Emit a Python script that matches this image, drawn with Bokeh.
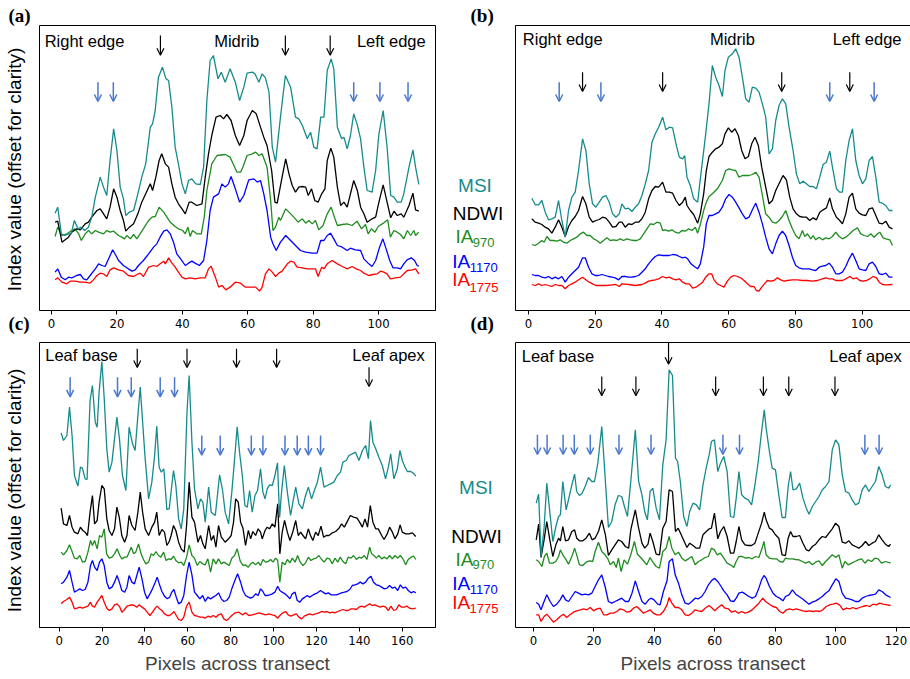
import math
from bokeh.plotting import figure
from bokeh.layouts import column, row
from bokeh.models import Range1d, FixedTicker, Label, Arrow, OpenHead, ColumnDataSource, LinearAxis, Title
from bokeh.core.properties import value
from bokeh.embed import file_html
from bokeh.resources import INLINE

# ---------------- data (x = pixel along transect, y = offset index value, arbitrary units) -------------
A_MSI = [(1.1,292),(1.9,310),(3.0,230),(4.0,225),(5.2,230),(6.0,230),(7.0,270),(8.1,245),(9.1,250),(10.1,240),(11.3,250),(12.3,280),(13.4,340),(14.9,400),(15.9,370),(16.9,345),(17.9,450),(19.0,545),(20.0,480),(21.0,370),(22.0,335),(22.7,285),(23.8,295),(25.1,300),(26.4,350),(27.6,400),(28.8,440),(30.2,550),(30.9,560),(31.7,600),(32.7,700),(33.9,730),(35.0,695),(35.8,690),(36.8,610),(37.8,490),(38.8,440),(39.9,380),(40.9,350),(41.9,390),(42.9,395),(44.1,380),(45.5,378),(46.5,430),(47.5,630),(48.5,750),(49.5,765),(50.9,695),(51.9,715),(53.1,685),(54.6,725),(56.2,685),(57.5,630),(58.8,670),(59.8,712),(61.4,715),(62.2,710),(63.4,685),(64.4,710),(65.4,698),(66.5,655),(67.5,490),(68.5,445),(70.0,580),(71.5,705),(73.1,670),(74.6,580),(75.6,575),(76.7,555),(78.2,515),(79.2,535),(80.2,490),(81.2,485),(82.3,580),(83.3,580),(84.3,720),(85.5,755),(86.3,725),(87.4,550),(88.7,515),(89.4,520),(90.4,485),(91.4,525),(92.4,590),(93.4,560),(94.5,515),(95.5,430),(96.5,360),(98.0,355),(99.1,420),(100.1,530),(101.4,600),(102.6,490),(103.7,345),(104.7,340),(105.7,325),(106.9,325),(107.7,350),(109.3,430),(110.5,482),(111.3,430),(112.3,378)]
A_NDWI = [(1.1,265),(1.9,268),(3.2,205),(5.2,220),(6.2,235),(7.7,245),(8.8,242),(10.3,260),(11.3,265),(12.3,280),(13.9,300),(14.9,305),(15.9,290),(16.9,275),(17.9,310),(19.0,365),(20.0,340),(21.0,300),(22.0,270),(22.7,238),(23.8,250),(25.1,260),(26.4,290),(27.6,325),(28.8,350),(30.2,380),(30.9,360),(31.9,400),(32.9,450),(33.7,470),(34.8,440),(35.8,430),(36.8,380),(37.8,340),(38.8,320),(39.9,305),(40.9,290),(42.1,325),(42.9,325),(44.4,315),(46.0,320),(47.0,400),(48.0,470),(49.0,525),(50.3,580),(51.6,585),(52.6,575),(53.6,588),(54.9,570),(56.2,525),(57.5,495),(58.8,525),(59.8,570),(61.4,600),(62.6,590),(63.9,550),(64.9,520),(65.9,495),(67.3,420),(68.3,325),(69.0,322),(70.5,400),(71.6,455),(72.6,410),(73.6,375),(74.6,355),(75.6,370),(76.7,372),(77.7,370),(78.5,345),(79.5,365),(80.5,330),(81.5,325),(82.6,350),(83.6,365),(84.3,450),(85.4,487),(86.3,460),(87.4,370),(88.4,315),(89.4,325),(90.4,310),(91.4,350),(92.4,390),(93.5,360),(94.5,310),(95.5,290),(96.5,265),(98.0,275),(99.1,280),(100.1,325),(101.4,377),(102.6,325),(103.7,278),(104.7,298),(105.7,285),(106.9,290),(107.7,280),(109.3,315),(110.5,352),(111.3,302),(112.3,298)]
A_IA970 = [(1.1,222),(1.9,250),(3.2,225),(4.7,230),(6.2,240),(7.2,245),(8.3,230),(9.1,210),(10.3,230),(11.3,240),(12.3,230),(13.4,240),(14.4,235),(15.9,230),(16.9,240),(17.9,235),(19.0,238),(20.5,225),(21.5,220),(22.3,215),(23.0,225),(24.1,215),(25.1,228),(26.1,215),(27.1,230),(28.4,250),(29.7,270),(30.7,280),(31.7,282),(32.9,310),(34.3,295),(35.3,280),(36.3,265),(37.8,252),(38.8,245),(40.1,240),(40.9,230),(41.7,250),(42.4,222),(43.1,240),(44.4,230),(45.8,230),(46.7,280),(47.5,360),(49.0,440),(50.6,465),(53.1,468),(54.6,460),(56.7,415),(57.8,415),(58.5,430),(59.8,465),(61.4,470),(62.4,475),(63.4,465),(64.4,470),(65.9,430),(67.0,330),(67.7,240),(68.5,250),(69.5,280),(70.0,270),(71.6,305),(72.6,295),(74.1,280),(75.4,265),(76.7,275),(77.7,262),(78.7,270),(79.7,260),(80.7,270),(81.7,242),(83.0,255),(84.3,290),(85.5,310),(86.5,280),(87.4,255),(88.9,258),(90.4,260),(91.9,255),(93.4,268),(94.8,245),(96.0,258),(96.8,230),(97.8,245),(98.9,235),(99.9,252),(101.6,263),(102.8,272),(103.6,220),(104.7,240),(105.7,235),(106.7,228),(107.7,215),(108.8,240),(109.8,225),(110.8,240),(111.3,225),(112.3,235)]
A_IA1170 = [(1.1,115),(1.9,125),(3.0,100),(4.2,92),(5.2,100),(6.2,98),(7.7,105),(8.8,108),(9.8,95),(10.8,92),(11.8,105),(13.4,125),(14.4,140),(15.4,135),(16.4,132),(17.6,158),(18.7,182),(19.7,165),(20.5,150),(22.0,135),(23.5,125),(24.6,118),(25.6,122),(26.6,135),(28.1,150),(29.7,170),(31.2,190),(32.2,200),(33.2,220),(34.3,238),(35.3,242),(36.3,230),(37.3,205),(38.3,170),(39.7,152),(40.9,135),(41.9,142),(42.9,148),(43.9,142),(45.2,135),(46.5,150),(47.5,210),(48.5,300),(49.5,340),(51.1,350),(52.1,380),(53.1,370),(54.1,380),(54.9,402),(56.2,365),(57.5,325),(58.8,345),(60.3,392),(61.9,395),(62.9,385),(63.9,390),(64.9,350),(65.9,300),(67.0,220),(67.7,200),(68.7,180),(70.0,205),(71.6,225),(73.1,210),(74.6,195),(76.1,180),(77.7,175),(79.7,172),(81.2,172),(82.3,210),(83.3,210),(84.3,225),(85.3,232),(86.3,215),(87.4,195),(88.9,190),(90.4,180),(91.4,187),(92.9,182),(94.5,180),(95.5,155),(97.0,140),(98.0,132),(99.1,150),(100.3,190),(101.3,215),(102.3,185),(103.4,150),(104.4,128),(105.7,128),(106.7,125),(107.7,140),(108.7,152),(110.0,158),(111.0,150),(111.8,135),(112.3,133)]
A_IA1775 = [(1.1,92),(1.9,98),(3.2,85),(4.7,80),(5.7,88),(7.2,88),(8.8,85),(10.3,85),(11.8,82),(12.8,92),(13.9,105),(14.9,112),(15.9,110),(16.9,102),(17.9,122),(19.0,128),(20.5,122),(22.0,118),(23.5,105),(25.1,102),(26.1,108),(27.1,112),(28.1,102),(29.7,130),(31.2,135),(32.2,132),(33.2,140),(34.3,148),(34.8,140),(35.8,158),(36.6,145),(37.8,130),(38.8,115),(39.9,100),(40.9,95),(42.4,98),(43.9,95),(45.5,98),(47.0,98),(48.0,125),(48.8,133),(50.1,100),(51.1,70),(52.1,75),(53.3,62),(54.6,70),(56.2,85),(57.8,82),(59.3,70),(60.9,70),(62.4,70),(63.6,58),(64.4,70),(65.4,110),(66.5,125),(67.5,115),(68.5,102),(69.5,112),(70.5,118),(72.1,140),(73.1,148),(74.1,145),(75.1,130),(76.7,128),(78.2,125),(79.7,125),(80.7,125),(81.5,102),(82.6,130),(83.3,125),(84.3,140),(85.8,150),(87.4,140),(88.9,132),(90.4,125),(91.9,132),(93.2,125),(94.5,120),(95.5,112),(97.0,105),(98.3,108),(99.6,110),(100.6,118),(101.6,115),(102.6,110),(103.6,95),(105.2,98),(106.7,100),(107.7,110),(108.8,120),(110.3,122),(111.3,125),(112.3,110)]

B_MSI = [(1.0,337),(2.0,317),(3.0,317),(4.0,330),(5.0,295),(6.0,272),(7.0,275),(8.0,280),(9.0,330),(10.0,270),(11.0,220),(12.0,300),(13.0,340),(14.0,355),(15.0,420),(16.2,515),(17.2,480),(18.2,380),(19.2,320),(20.2,310),(21.2,325),(22.2,340),(23.2,345),(24.2,325),(25.2,290),(26.2,280),(27.2,290),(28.0,320),(29.0,305),(30.0,307),(31.0,297),(32.0,310),(33.0,320),(34.0,345),(35.0,380),(36.0,420),(37.0,505),(38.0,530),(39.0,550),(40.2,580),(41.2,542),(42.2,550),(43.2,548),(44.2,500),(45.2,460),(46.2,455),(46.8,465),(47.5,400),(48.5,375),(49.5,335),(50.7,325),(51.5,395),(53.0,520),(54.1,620),(55.1,735),(56.1,700),(57.1,675),(58.1,642),(58.9,720),(59.9,760),(61.1,770),(62.1,785),(63.1,760),(64.1,700),(65.1,635),(66.1,625),(67.1,670),(68.1,667),(69.1,655),(70.1,620),(71.1,580),(72.1,470),(73.1,485),(74.1,570),(75.1,615),(76.1,635),(77.1,620),(78.1,550),(79.3,480),(80.3,410),(81.3,380),(82.3,388),(83.3,380),(84.3,372),(85.3,372),(86.3,365),(87.3,400),(88.3,438),(89.3,445),(90.3,478),(91.1,430),(92.3,365),(93.3,355),(94.1,355),(95.1,450),(96.1,510),(97.1,545),(98.1,450),(99.1,405),(100.1,380),(101.1,395),(102.1,450),(103.1,462),(104.1,400),(105.1,325),(106.1,322),(107.1,315),(108.1,300),(109.1,300)]
B_NDWI = [(1.0,275),(2.0,265),(3.0,262),(4.0,258),(5.0,250),(6.0,245),(7.0,232),(8.0,250),(9.0,272),(10.0,250),(11.0,222),(12.0,252),(13.0,270),(14.0,282),(15.0,300),(16.2,342),(17.2,320),(18.2,280),(19.2,265),(20.2,270),(21.2,273),(22.2,280),(23.2,277),(24.2,265),(25.2,250),(26.2,252),(27.2,265),(28.0,265),(29.0,250),(30.0,260),(31.0,258),(32.0,265),(33.0,265),(34.0,275),(35.0,295),(36.0,335),(37.0,360),(38.0,372),(39.0,370),(40.2,385),(41.2,355),(42.2,355),(43.2,352),(44.2,330),(45.2,315),(46.2,325),(47.0,340),(47.5,315),(48.5,300),(49.5,288),(50.7,262),(51.5,290),(52.5,350),(53.3,420),(54.1,462),(55.1,475),(56.1,485),(57.1,490),(58.1,500),(58.9,530),(59.9,548),(60.9,535),(61.9,545),(62.9,525),(63.9,480),(64.9,455),(65.9,462),(66.9,500),(67.9,520),(68.9,495),(69.9,430),(71.1,370),(72.1,320),(73.1,330),(74.1,360),(75.3,385),(76.3,405),(77.3,392),(78.3,340),(79.3,305),(80.3,290),(81.3,282),(82.3,280),(83.3,280),(84.3,270),(85.3,278),(86.3,272),(87.3,295),(88.3,302),(89.3,308),(90.3,338),(91.1,305),(92.3,280),(93.3,270),(94.1,260),(95.1,290),(96.1,340),(97.1,352),(98.1,305),(99.1,292),(100.1,287),(101.1,285),(102.1,305),(103.1,308),(104.1,285),(105.1,262),(106.1,260),(107.1,268),(108.1,250),(109.1,245)]
B_IA970 = [(1.0,198),(2.0,195),(3.0,202),(4.0,210),(4.7,205),(5.5,222),(6.5,210),(7.5,210),(8.5,208),(9.5,212),(10.5,205),(11.5,202),(12.5,210),(13.5,215),(14.5,220),(15.5,230),(16.5,235),(17.5,225),(18.5,225),(19.5,215),(20.5,210),(21.5,202),(22.5,210),(23.5,218),(24.5,210),(25.5,212),(26.5,210),(27.5,215),(28.5,210),(29.5,215),(30.5,212),(31.5,210),(32.5,210),(33.5,215),(34.5,230),(35.5,245),(36.5,260),(37.5,258),(38.5,265),(39.5,262),(40.2,240),(41.0,242),(42.0,238),(43.0,242),(44.0,235),(45.0,232),(46.0,240),(47.0,238),(48.0,245),(49.0,240),(50.0,250),(50.7,232),(51.5,258),(52.5,300),(53.3,325),(54.1,342),(55.1,350),(56.6,365),(58.1,390),(59.1,420),(60.1,425),(61.1,422),(62.1,420),(63.1,400),(64.1,405),(65.1,405),(66.1,405),(67.1,408),(68.1,415),(69.1,400),(70.1,345),(71.1,290),(72.1,280),(73.1,265),(74.1,262),(75.1,270),(76.1,282),(77.1,300),(78.1,270),(79.1,245),(80.1,225),(81.1,215),(82.1,240),(82.8,222),(83.6,230),(84.6,215),(85.3,225),(86.1,212),(87.1,220),(88.1,212),(89.1,218),(90.1,215),(91.1,222),(92.1,235),(93.1,222),(94.1,215),(95.1,220),(96.3,230),(97.3,240),(98.6,248),(99.6,230),(100.6,225),(101.6,222),(102.6,230),(103.6,220),(104.6,230),(105.3,235),(106.3,218),(107.1,215),(108.3,212),(109.1,195)]
B_IA1170 = [(1.0,108),(2.0,105),(3.0,105),(4.0,100),(5.0,98),(6.0,102),(7.0,95),(8.0,100),(9.0,95),(10.0,102),(11.0,85),(12.0,100),(13.0,110),(14.0,120),(15.0,130),(16.2,158),(17.0,158),(18.0,130),(19.0,110),(20.0,105),(21.0,105),(22.0,108),(23.0,105),(24.0,102),(25.0,100),(26.0,98),(27.0,92),(28.0,102),(29.0,102),(30.0,100),(31.0,100),(32.0,102),(33.0,105),(34.0,115),(35.0,125),(36.0,140),(37.0,152),(38.0,162),(39.0,167),(40.2,165),(41.2,165),(42.2,165),(43.2,168),(44.2,167),(45.2,162),(46.2,158),(47.0,160),(47.7,155),(48.7,140),(49.7,132),(50.7,125),(51.5,140),(52.5,190),(53.3,260),(54.1,285),(55.1,285),(56.1,290),(57.1,295),(58.1,310),(59.1,335),(60.1,348),(61.1,340),(62.1,325),(63.1,308),(64.1,290),(65.1,275),(66.1,280),(67.1,302),(68.1,322),(69.1,295),(70.1,260),(71.1,220),(72.1,185),(73.1,170),(74.1,200),(75.1,225),(76.1,238),(77.1,225),(78.1,195),(79.1,160),(80.1,135),(81.1,128),(82.1,125),(84.1,125),(85.1,122),(86.1,120),(87.1,130),(88.1,133),(89.1,135),(90.1,142),(91.1,130),(92.1,110),(93.1,110),(94.1,115),(95.1,132),(96.1,155),(97.1,172),(98.1,150),(99.1,125),(100.1,122),(101.1,120),(102.1,140),(103.1,145),(104.1,132),(105.1,110),(106.1,108),(107.1,112),(108.1,100),(109.1,100)]
B_IA1775 = [(1.0,78),(2.0,75),(3.0,80),(4.0,75),(5.0,78),(6.0,75),(7.0,72),(8.0,78),(9.0,75),(10.0,75),(11.0,65),(12.0,75),(13.0,80),(14.0,85),(15.0,92),(16.2,100),(17.2,92),(18.2,85),(19.2,80),(20.2,75),(23.2,75),(25.2,77),(26.2,78),(27.2,72),(28.0,80),(30.0,78),(32.0,75),(34.0,78),(35.0,82),(36.0,88),(37.0,90),(38.0,92),(39.0,95),(40.2,102),(41.2,98),(42.2,100),(43.2,95),(44.2,92),(45.2,95),(46.2,85),(47.2,80),(48.2,80),(49.2,67),(50.2,70),(51.2,77),(52.2,85),(53.1,100),(54.1,110),(54.9,110),(55.6,92),(56.6,80),(57.6,75),(58.6,70),(59.6,88),(60.6,100),(61.6,105),(62.6,102),(63.6,98),(64.6,90),(65.6,80),(66.6,72),(67.6,72),(68.3,60),(69.1,58),(69.9,70),(70.9,82),(71.6,90),(72.6,88),(73.6,90),(74.6,98),(75.6,92),(76.6,88),(77.6,90),(79.1,92),(80.6,92),(82.1,90),(83.6,90),(85.1,88),(86.6,90),(88.1,95),(89.1,98),(90.1,95),(91.1,95),(92.1,90),(94.1,90),(95.1,95),(96.3,102),(97.3,95),(98.3,98),(99.3,90),(100.3,88),(101.3,90),(102.3,95),(103.3,102),(104.3,98),(105.1,85),(106.1,78),(107.1,77),(109.1,78)]

C_MSI = [(0.9,584),(2.0,561),(3.6,576),(4.8,661),(6.0,576),(7.1,456),(8.7,424),(9.9,481),(10.8,478),(12.1,446),(13.0,444),(14.4,681),(15.5,726),(16.8,616),(17.7,601),(18.6,706),(19.9,798),(21.0,686),(22.2,536),(23.3,466),(24.6,496),(25.8,566),(26.9,631),(28.1,566),(29.5,456),(31.1,411),(32.6,601),(34.2,551),(35.4,531),(36.7,636),(37.8,721),(38.9,616),(40.1,506),(41.7,386),(43.2,436),(44.5,516),(45.5,604),(46.6,481),(47.6,466),(48.8,476),(50.2,354),(51.3,356),(53.3,471),(54.4,426),(55.7,326),(56.9,296),(58.1,356),(59.6,646),(60.6,756),(61.9,556),(63.1,416),(64.7,356),(65.9,386),(67.0,376),(68.1,316),(69.7,421),(70.9,346),(72.8,336),(74.8,458),(76.2,411),(77.4,346),(79.0,311),(80.5,406),(81.8,506),(83.0,602),(84.1,526),(85.4,456),(86.6,366),(87.7,361),(88.8,411),(90.0,346),(91.3,396),(92.5,411),(93.9,476),(95.0,406),(96.0,386),(97.0,416),(98.1,428),(99.4,426),(100.6,456),(101.8,494),(102.8,330),(103.7,406),(105.0,486),(106.4,406),(107.9,336),(109.0,376),(110.3,421),(111.8,371),(113.4,356),(114.9,396),(116.2,421),(117.7,386),(119.0,411),(120.4,436),(121.9,481),(123.5,421),(125.0,426),(126.6,431),(128.1,436),(129.7,456),(131.2,466),(132.3,496),(133.9,501),(135.1,516),(136.7,521),(138.2,526),(139.8,501),(141.4,531),(142.9,546),(144.2,506),(145.2,621),(146.3,556),(147.6,536),(149.1,511),(150.7,486),(152.2,446),(153.5,481),(154.6,521),(156.1,446),(157.7,476),(158.9,531),(160.0,501),(161.3,481),(162.4,468),(164.0,468),(165.5,461),(166.3,454)]
C_NDWI = [(0.9,358),(2.0,311),(3.6,306),(4.8,336),(6.0,301),(7.1,286),(8.7,281),(9.9,301),(11.0,291),(12.1,286),(13.2,276),(14.4,346),(15.5,396),(16.5,311),(17.7,321),(18.6,376),(19.9,426),(21.0,416),(22.2,326),(23.3,291),(24.6,276),(25.8,296),(26.9,361),(28.0,331),(29.2,276),(30.5,256),(31.6,276),(32.6,336),(33.9,306),(35.4,291),(36.7,346),(37.8,406),(38.9,346),(40.1,296),(41.7,276),(43.2,301),(44.5,316),(45.5,346),(46.6,276),(47.9,294),(49.1,286),(50.2,246),(51.3,258),(52.2,276),(53.3,306),(54.4,291),(55.7,256),(56.9,236),(58.3,226),(59.4,306),(60.6,436),(61.9,331),(63.1,316),(64.7,256),(65.9,276),(67.0,251),(68.1,236),(69.7,306),(70.9,261),(72.0,276),(73.1,241),(74.3,306),(75.6,271),(77.4,256),(79.0,266),(80.2,276),(81.3,316),(82.3,386),(83.5,376),(84.6,316),(85.7,298),(86.9,246),(88.2,291),(89.3,266),(90.3,288),(91.6,276),(92.8,296),(93.9,286),(94.7,266),(96.0,291),(97.0,301),(98.1,296),(99.4,311),(100.6,301),(101.9,371),(102.9,221),(104.0,286),(105.1,321),(106.4,286),(107.6,261),(109.0,288),(110.3,321),(111.5,276),(112.6,286),(113.7,276),(114.9,266),(116.2,296),(117.2,276),(118.3,261),(119.6,286),(120.8,276),(122.1,304),(123.3,271),(124.6,276),(125.8,276),(127.4,284),(128.9,288),(130.5,298),(131.7,311),(133.0,301),(134.2,316),(135.8,336),(137.3,331),(138.9,328),(140.1,316),(141.4,301),(142.6,326),(143.8,301),(145.1,366),(146.3,316),(147.6,296),(148.8,296),(150.4,276),(151.5,264),(153.0,281),(154.1,301),(155.4,286),(156.6,266),(157.9,281),(159.0,308),(160.0,286),(161.6,281),(163.1,281),(164.7,284),(166.3,273)]
C_IA970 = [(0.9,226),(2.0,218),(3.6,231),(4.8,248),(6.0,228),(7.1,208),(8.4,206),(9.6,216),(10.9,196),(12.1,198),(13.4,226),(14.6,261),(15.5,246),(16.5,261),(17.7,236),(18.8,276),(19.9,271),(21.0,296),(22.1,221),(23.3,208),(24.6,211),(25.8,221),(27.0,236),(28.3,216),(29.2,206),(30.5,211),(31.6,211),(32.6,226),(33.6,241),(34.7,221),(35.7,226),(37.0,251),(38.2,221),(39.3,204),(40.4,191),(41.7,196),(42.9,221),(44.0,216),(45.1,228),(46.3,216),(47.4,211),(48.7,226),(49.8,201),(51.0,206),(52.2,204),(53.3,214),(54.4,201),(55.7,194),(56.9,196),(58.1,186),(59.4,211),(60.6,248),(61.9,216),(63.1,208),(64.4,186),(65.6,198),(66.9,191),(68.1,188),(69.3,206),(70.6,166),(71.8,206),(73.1,191),(74.3,206),(75.6,191),(76.8,196),(78.1,191),(79.3,186),(80.5,208),(81.8,216),(83.0,236),(84.4,200),(85.7,186),(86.9,188),(88.2,181),(89.3,191),(90.3,196),(91.6,188),(92.8,196),(93.9,186),(95.0,204),(96.2,196),(97.5,198),(98.6,204),(99.7,196),(100.9,208),(101.9,201),(102.9,136),(104.0,196),(105.3,188),(106.4,204),(107.6,194),(108.7,208),(110.0,196),(111.2,216),(112.4,196),(113.7,186),(114.9,194),(116.2,211),(117.4,201),(118.6,206),(119.9,208),(121.1,216),(122.4,204),(123.6,196),(124.9,208),(126.1,206),(127.4,191),(128.6,208),(129.9,196),(131.1,211),(132.3,198),(133.6,191),(134.8,211),(136.1,208),(137.3,216),(138.6,204),(139.8,211),(141.0,208),(142.3,216),(143.5,204),(144.8,241),(145.7,221),(146.8,216),(147.9,208),(149.1,216),(150.4,206),(151.6,211),(152.9,206),(154.1,216),(155.4,206),(156.6,216),(157.9,208),(159.1,216),(160.3,206),(161.6,188),(162.8,204),(164.1,211),(165.3,214),(166.3,204)]
C_IA1170 = [(0.9,131),(2.0,136),(3.6,151),(4.8,171),(6.0,136),(7.1,106),(8.4,111),(9.6,116),(10.9,111),(12.1,114),(13.4,136),(14.6,186),(15.5,201),(16.5,181),(17.7,171),(18.8,196),(19.9,206),(21.0,186),(22.2,136),(23.3,116),(24.6,121),(25.8,136),(27.0,156),(28.3,131),(29.2,111),(30.5,106),(31.6,121),(32.6,156),(33.9,136),(35.1,131),(36.2,156),(37.3,181),(38.6,146),(39.8,106),(41.0,86),(42.3,101),(43.5,116),(44.8,136),(45.7,151),(46.8,128),(47.9,108),(49.1,94),(50.4,86),(51.5,91),(52.5,106),(53.5,114),(54.6,91),(55.7,71),(56.9,76),(58.1,96),(59.4,156),(60.6,196),(61.9,158),(63.1,106),(64.4,96),(65.6,86),(66.9,96),(68.1,78),(69.3,91),(70.6,86),(71.8,91),(73.1,96),(74.3,104),(75.6,86),(76.8,78),(78.1,81),(79.3,91),(80.5,116),(82.1,144),(83.2,161),(84.6,136),(85.7,111),(86.9,96),(88.2,91),(89.3,88),(90.3,91),(91.6,101),(92.8,96),(93.9,116),(95.0,108),(96.0,96),(97.0,96),(98.1,98),(99.4,101),(100.6,106),(101.9,124),(102.9,111),(104.0,106),(105.3,101),(106.5,94),(107.6,86),(108.7,101),(110.0,106),(111.0,81),(112.3,76),(113.4,86),(114.6,91),(115.7,96),(116.8,91),(118.0,96),(119.3,101),(120.5,104),(121.9,111),(123.0,106),(124.3,101),(125.5,104),(126.7,98),(129.2,98),(130.5,101),(131.7,104),(133.0,106),(134.2,108),(135.5,114),(136.7,126),(138.0,128),(139.2,131),(140.4,136),(141.7,131),(142.9,136),(144.2,148),(145.4,154),(146.6,136),(147.9,128),(149.1,126),(150.4,121),(151.6,116),(152.9,118),(154.1,126),(155.4,118),(156.6,121),(157.9,111),(159.1,128),(160.3,118),(161.6,121),(162.8,111),(164.1,104),(165.3,108),(166.3,104)]
C_IA1775 = [(0.9,71),(2.0,78),(3.6,84),(4.8,91),(6.0,76),(7.1,56),(8.4,58),(9.6,61),(10.9,58),(12.1,61),(13.4,64),(14.6,76),(15.5,64),(16.5,61),(17.7,76),(18.8,86),(19.9,96),(21.0,76),(22.2,58),(23.3,51),(24.6,56),(25.8,68),(27.0,71),(28.3,61),(29.2,46),(30.5,54),(31.6,64),(32.6,66),(33.9,68),(35.1,66),(36.2,61),(37.3,68),(38.6,61),(39.8,56),(41.0,46),(42.3,36),(43.5,46),(44.8,58),(45.7,64),(46.8,56),(47.9,51),(49.1,41),(50.4,36),(51.5,36),(52.5,41),(53.5,48),(54.6,36),(55.7,24),(56.9,21),(58.1,31),(59.4,64),(60.6,76),(61.9,46),(63.1,36),(64.4,34),(65.6,31),(66.9,31),(68.1,28),(69.3,34),(70.6,31),(71.8,36),(73.1,31),(74.3,38),(75.6,41),(76.8,26),(78.1,21),(79.3,28),(80.5,36),(82.1,44),(83.8,46),(85.4,38),(86.9,44),(88.5,36),(90.0,38),(91.6,41),(93.1,44),(94.7,41),(96.3,38),(97.8,41),(99.4,38),(100.6,36),(101.9,28),(102.9,36),(104.3,44),(105.6,48),(106.8,38),(108.1,34),(109.3,38),(110.6,41),(111.8,31),(113.1,26),(114.3,34),(115.6,38),(116.8,41),(118.0,38),(119.6,41),(121.1,44),(122.4,48),(123.6,46),(124.9,48),(126.1,44),(127.4,46),(128.6,44),(129.9,48),(131.1,51),(132.4,54),(133.6,51),(134.8,51),(136.1,56),(137.3,56),(138.6,54),(139.8,61),(141.0,64),(142.3,61),(143.5,66),(144.8,71),(146.0,66),(147.3,68),(148.5,64),(149.8,61),(151.0,64),(152.3,61),(153.5,51),(154.7,64),(156.0,51),(157.2,54),(158.4,68),(159.7,61),(160.9,61),(162.2,64),(163.4,58),(164.7,56),(166.3,58)]

D_MSI = [(0.9,373),(1.7,400),(2.5,213),(3.5,298),(4.4,433),(5.5,338),(6.4,258),(7.4,303),(8.3,333),(8.9,338),(9.7,438),(10.8,353),(11.7,388),(12.7,428),(13.6,460),(14.3,408),(15.2,396),(16.1,403),(17.1,423),(18.2,450),(19.3,438),(20.2,438),(21.3,493),(22.6,603),(23.8,438),(24.8,300),(25.9,318),(27.0,368),(28.1,396),(29.2,393),(30.1,363),(31.1,333),(32.2,438),(33.7,593),(34.8,438),(35.9,398),(36.8,348),(37.7,323),(38.6,408),(39.5,418),(40.6,358),(41.7,323),(42.8,488),(43.9,563),(44.9,773),(46.0,756),(47.0,508),(47.7,498),(48.6,438),(49.7,333),(50.8,303),(51.7,348),(52.8,373),(53.9,368),(55.0,353),(56.1,428),(57.2,480),(58.2,520),(58.9,558),(59.9,563),(61.0,468),(61.9,493),(63.0,513),(64.1,468),(65.2,333),(66.3,330),(67.1,388),(68.0,468),(68.9,398),(70.0,388),(71.1,383),(72.2,368),(73.3,428),(74.4,498),(75.5,588),(76.4,653),(77.0,598),(78.1,528),(79.0,478),(80.1,473),(81.2,398),(82.3,330),(83.4,330),(84.3,423),(85.1,468),(85.9,413),(87.0,416),(88.1,433),(89.2,388),(90.3,358),(91.2,340),(92.3,363),(93.4,378),(94.5,393),(95.6,413),(96.7,423),(97.8,438),(98.9,533),(100.0,563),(101.1,548),(102.2,458),(103.3,408),(104.4,403),(105.5,383),(106.6,368),(107.7,373),(108.8,413),(109.9,428),(111.0,408),(112.1,423),(113.2,438),(114.3,483),(115.4,458),(116.5,423),(117.6,418),(118.2,428)]
D_NDWI = [(0.9,263),(1.7,310),(2.5,210),(3.5,263),(4.4,318),(5.3,268),(6.4,213),(7.4,248),(8.3,268),(8.9,260),(9.7,303),(10.6,260),(11.6,263),(12.7,288),(13.6,293),(14.3,268),(15.2,260),(16.3,260),(17.4,268),(18.5,283),(19.4,263),(20.4,268),(21.5,288),(22.6,323),(23.8,278),(24.8,216),(25.9,233),(27.0,248),(28.1,263),(29.2,258),(30.4,243),(31.5,238),(32.2,293),(33.7,353),(34.8,298),(35.9,253),(36.8,238),(37.9,250),(38.6,283),(39.5,258),(40.6,220),(41.7,218),(42.8,298),(43.9,318),(44.9,413),(46.0,408),(47.0,288),(47.9,298),(48.9,278),(49.9,258),(50.8,240),(51.7,253),(52.8,246),(53.9,238),(55.0,238),(56.1,278),(57.2,288),(58.2,296),(58.9,298),(59.9,343),(61.0,266),(61.9,288),(63.0,303),(64.1,273),(65.2,223),(66.3,223),(67.1,258),(68.0,303),(68.9,263),(70.0,248),(71.1,246),(72.2,246),(73.3,253),(74.4,283),(75.5,313),(76.4,346),(77.0,323),(78.1,298),(79.0,293),(80.1,278),(81.2,268),(82.3,218),(83.4,216),(84.3,268),(85.1,288),(85.9,273),(87.0,273),(88.1,276),(89.2,253),(90.3,233),(91.2,230),(92.3,243),(93.4,250),(94.5,263),(95.6,273),(96.7,270),(97.8,283),(98.9,296),(100.0,313),(101.1,303),(102.2,256),(103.3,253),(104.4,260),(105.5,248),(106.6,243),(107.7,238),(108.8,246),(109.9,258),(111.0,246),(112.1,253),(113.2,258),(114.3,278),(115.4,263),(116.5,250),(117.6,243),(118.2,250)]
D_IA970 = [(0.9,203),(1.7,198),(2.8,183),(3.6,213),(4.4,223),(5.3,193),(6.4,193),(7.4,198),(8.3,213),(8.9,233),(9.7,218),(10.6,206),(11.6,190),(12.7,213),(13.6,238),(14.3,218),(15.2,188),(16.3,186),(17.4,196),(18.5,200),(19.6,198),(20.4,228),(21.5,256),(22.6,228),(23.7,218),(24.6,206),(25.4,188),(26.5,198),(27.4,180),(28.1,208),(29.0,168),(30.0,203),(31.1,190),(32.2,218),(33.4,258),(34.4,220),(35.5,210),(36.6,198),(37.5,188),(38.6,210),(39.5,196),(40.6,183),(41.7,178),(42.8,228),(43.9,238),(44.9,273),(45.8,238),(46.9,218),(48.0,226),(49.1,208),(50.2,200),(51.3,206),(52.4,213),(53.5,188),(54.6,198),(55.7,203),(56.8,210),(57.9,213),(58.9,238),(59.9,233),(60.8,218),(61.9,223),(63.0,208),(64.1,193),(65.2,188),(66.3,180),(67.1,198),(68.0,213),(69.1,213),(70.2,208),(71.3,210),(72.4,206),(73.5,213),(74.6,210),(75.5,233),(76.3,258),(77.0,218),(78.1,208),(79.3,206),(80.4,206),(81.5,198),(82.6,196),(83.4,208),(84.6,206),(85.7,206),(86.8,204),(87.9,203),(89.0,198),(90.1,193),(91.2,198),(92.3,188),(93.4,196),(94.5,200),(95.6,186),(96.7,198),(97.8,208),(98.9,218),(100.1,210),(101.1,218),(102.2,178),(103.1,198),(104.2,188),(105.3,193),(106.4,198),(107.5,203),(108.6,206),(109.7,193),(110.8,203),(111.9,198),(113.0,208),(114.1,206),(115.2,193),(116.6,198),(118.2,193)]
D_IA1170 = [(0.9,75),(1.7,70),(2.5,53),(3.5,78),(4.4,98),(5.5,78),(6.6,63),(7.7,70),(8.8,83),(9.7,98),(10.6,83),(11.6,78),(12.7,93),(13.8,108),(14.9,103),(16.0,98),(17.1,100),(18.2,98),(19.3,103),(20.4,123),(21.5,143),(22.6,158),(23.7,123),(24.8,78),(25.9,73),(27.0,78),(28.1,83),(29.2,88),(30.4,78),(31.5,78),(32.6,103),(33.7,140),(34.8,108),(35.9,78),(37.0,70),(38.1,83),(38.9,88),(39.9,83),(41.1,70),(41.9,68),(43.0,108),(44.2,140),(44.9,198),(46.0,206),(46.9,158),(48.0,133),(49.1,98),(50.2,73),(51.3,70),(52.4,78),(53.5,88),(54.6,86),(55.7,93),(56.8,108),(57.9,128),(58.9,140),(59.9,148),(61.0,138),(61.9,126),(63.0,110),(64.1,98),(65.2,80),(66.3,78),(67.1,88),(68.0,103),(69.1,106),(70.2,100),(71.3,93),(72.4,88),(73.5,93),(74.6,118),(75.5,143),(76.3,156),(77.0,148),(78.1,123),(79.3,103),(80.4,93),(81.5,88),(82.6,80),(83.4,93),(84.6,98),(85.7,113),(86.8,100),(87.9,93),(89.0,86),(90.1,78),(91.2,70),(92.3,76),(93.4,80),(94.5,86),(95.6,93),(96.7,103),(97.8,110),(98.9,128),(100.1,146),(101.1,138),(102.2,103),(103.3,88),(104.4,86),(105.5,83),(106.6,78),(107.7,78),(108.8,88),(109.9,93),(111.0,96),(112.1,98),(113.2,100),(114.3,113),(115.4,108),(116.6,98),(118.2,90)]
D_IA1775 = [(0.9,38),(1.7,38),(2.5,18),(3.5,33),(4.4,40),(5.5,28),(6.6,16),(7.7,23),(8.8,33),(9.9,40),(11.0,30),(12.1,38),(13.2,46),(14.3,50),(15.5,53),(16.6,56),(17.7,53),(18.8,60),(19.9,50),(21.0,56),(22.1,58),(23.2,38),(24.3,38),(25.4,43),(26.5,43),(27.6,48),(28.7,56),(29.8,53),(30.9,46),(32.0,48),(33.1,58),(34.2,63),(35.3,53),(36.4,43),(37.5,48),(38.6,53),(39.7,43),(40.8,38),(41.9,38),(43.0,48),(44.2,68),(44.9,90),(45.8,73),(46.9,60),(48.0,60),(49.1,53),(50.2,38),(51.3,36),(52.4,43),(53.5,53),(54.6,50),(55.7,48),(56.8,58),(58.1,66),(58.9,60),(60.0,50),(61.1,60),(62.3,68),(63.4,58),(64.5,56),(65.6,46),(66.7,50),(67.8,43),(68.9,48),(70.0,43),(71.1,46),(72.4,53),(73.5,63),(74.6,73),(75.9,88),(76.8,78),(78.1,70),(79.2,63),(80.4,60),(81.5,48),(82.6,43),(83.7,53),(84.8,56),(85.9,53),(86.9,56),(88.1,53),(89.2,50),(90.3,48),(91.4,50),(92.5,48),(93.6,50),(94.7,48),(95.8,53),(96.9,63),(98.0,68),(99.1,70),(100.2,73),(101.3,68),(102.5,53),(103.6,58),(104.7,56),(105.7,60),(106.8,56),(107.9,60),(109.0,63),(110.2,66),(111.3,63),(112.4,70),(113.5,68),(114.6,73),(115.7,70),(117.1,68),(118.2,66)]

# arrow positions (pixel along transect)
A_BLACK_ARROWS = [33.3, 71.5, 85.2]
A_BLUE_ARROWS = [14.2, 18.9, 92.4, 100.4, 109.0]
B_BLACK_ARROWS = [16.2, 40.2, 75.9, 96.3]
B_BLUE_ARROWS = [9.2, 21.7, 90.3, 103.6]
C_BLACK_ARROWS = [36.4, 59.6, 82.7, 101.4]
C_APEX_ARROW = [144.5]
C_BLUE_ARROWS_HI = [5.1, 27.2, 33.6, 47.1, 53.8]
C_BLUE_ARROWS_LO = [66.5, 75.1, 89.6, 95.0, 105.3, 111.0, 116.2, 121.9]
D_BLACK_ARROWS = [22.6, 33.9, 60.3, 76.1, 84.5, 99.8]
D_TOP_ARROW = [44.7]
D_BLUE_ARROWS = [1.3, 4.5, 9.8, 13.5, 18.8, 28.3, 38.9, 62.7, 68.2, 109.7, 114.4]

TICKS_A = [0, 20, 40, 60, 80, 100]
TICKS_B = [0, 20, 40, 60, 80, 100]
TICKS_C = [0, 20, 40, 60, 80, 100, 120, 140, 160]
TICKS_D = [0, 20, 40, 60, 80, 100, 120]

PANEL_LETTERS = ["(a)", "(b)", "(c)", "(d)"]
LEGEND_MAIN = ["MSI", "NDWI", "IA", "IA", "IA"]
LEGEND_SUB = ["", "", "970", "1170", "1775"]
SERIES_NAMES = ["MSI", "NDWI", "IA970", "IA1170", "IA1775"]
COLORS = {"MSI": "#178b8b", "NDWI": "#000000", "IA970": "#1f8c1f", "IA1170": "#0000ff", "IA1775": "#ff0000"}
BLUE_ARROW = "#4a78cc"
YLAB = "Index value (offset for clarity)"
XLAB = "Pixels across transect"

SANS = "Liberation Sans"
TICKFONT = "DejaVu Sans Condensed, Liberation Sans"
YMAX = 855


def unzip(pairs):
    return [p[0] for p in pairs], [p[1] for p in pairs]


def make_panel(width, height, xr, mbl, mbr, mbt, mbb, ticks, xlab, open_right):
    p = figure(width=width, height=height, x_range=Range1d(*xr), y_range=Range1d(0, YMAX),
               output_backend="svg", toolbar_location=None,
               min_border_left=mbl, min_border_right=mbr, min_border_top=mbt, min_border_bottom=mbb,
               y_axis_location=("left" if open_right else None))
    p.xgrid.visible = False
    p.ygrid.visible = False
    p.background_fill_color = "white"
    p.border_fill_color = "white"
    ax = p.xaxis[0]
    ax.ticker = FixedTicker(ticks=ticks)
    ax.major_tick_out = 4
    ax.major_tick_in = 0
    ax.minor_tick_line_color = None
    ax.axis_line_color = "black"
    ax.major_label_standoff = 4
    ax.major_label_text_font = TICKFONT
    ax.major_label_text_font_size = "13px"
    ax.major_label_text_color = "black"
    if xlab:
        ax.axis_label = xlab
        ax.axis_label_text_font = SANS
        ax.axis_label_text_font_size = "19px"
        ax.axis_label_text_font_style = "normal"
        ax.axis_label_standoff = 5
    if open_right:
        # frame drawn by axis lines (left, top, bottom) only: the right edge is cut off in the source
        p.outline_line_color = None
        ay = p.yaxis[0]
        ay.ticker = FixedTicker(ticks=[])
        ay.axis_line_color = "black"
        ay.major_tick_line_color = None
        ay.minor_tick_line_color = None
        top = LinearAxis(ticker=FixedTicker(ticks=[]), axis_line_color="black",
                         major_tick_line_color=None, minor_tick_line_color=None)
        p.add_layout(top, "above")
    else:
        p.outline_line_color = "black"
        p.outline_line_alpha = 1.0
        p.outline_line_width = 1
    return p


def strip(width, height, mbt, mbb):
    # text-only column; its frame is aligned with the panels of the same row
    s = figure(width=width, height=height, x_range=Range1d(0, width), y_range=Range1d(0, YMAX),
               output_backend="svg", toolbar_location=None, x_axis_location=None, y_axis_location=None,
               min_border_left=0, min_border_right=0, min_border_top=mbt, min_border_bottom=mbb)
    s.grid.visible = False
    s.outline_line_color = None
    s.background_fill_color = "white"
    s.border_fill_color = "white"
    return s


def letter(s, text, offset, where):
    kw = dict(text=text, align="left", offset=offset, standoff=0, text_font="Liberation Serif",
              text_font_style="bold", text_font_size="19px", text_color="black", vertical_align="bottom")
    if where == "above":
        for k, v in kw.items():
            setattr(s.title, k, v)
    else:
        s.add_layout(Title(**kw), "below")


def stext(s, x, y, text, size, color="black", align="left", angle=0.0):
    s.text(x=[x], y=[y], text=[text], text_font=value(SANS), text_font_size=value(size),
           text_color=color, text_align=align, text_baseline="middle", angle=angle)


def add_series(p, data):
    for name in ["IA1775", "IA1170", "IA970", "NDWI", "MSI"]:
        xs, ys = unzip(data[name])
        p.line(xs, ys, line_color=COLORS[name], line_width=1.3)


def add_arrows(p, xs, y0, y1, color, lw):
    src = ColumnDataSource(dict(x0=xs, y0=[y0] * len(xs), x1=xs, y1=[y1] * len(xs)))
    p.add_layout(Arrow(end=OpenHead(size=7, line_color=color, line_width=lw),
                       x_start="x0", y_start="y0", x_end="x1", y_end="y1", source=src,
                       line_color=color, line_width=lw))


def add_label(p, x, y, text, align="left"):
    p.add_layout(Label(x=x, y=y, text=text, text_align=align, text_baseline="middle",
                       text_font_size="16.5px", text_color="black", text_font=SANS))


def legend(s, pos):
    colors = [COLORS[n] for n in SERIES_NAMES]
    for i in range(5):
        (mx, my, malign), (sx, sy) = pos[i]
        stext(s, mx, my, LEGEND_MAIN[i], "19px", color=colors[i], align=malign)
        if LEGEND_SUB[i]:
            stext(s, sx, sy, LEGEND_SUB[i], "13px", color=colors[i])


TOP_H, BOT_H = 338, 341

# ---------------- row 1 ----------------
sl_top = strip(38, TOP_H, 25, 28)
letter(sl_top, PANEL_LETTERS[0], 8, "above")
letter(sl_top, PANEL_LETTERS[2], 8, "below")
stext(sl_top, 14, 423, YLAB, "19px", align="center", angle=math.pi / 2)

pa = make_panel(398, TOP_H, (-3.67, 117.4), 1, 1, 25, 28, TICKS_A, None, False)
add_series(pa, {"MSI": A_MSI, "NDWI": A_NDWI, "IA970": A_IA970, "IA1170": A_IA1170, "IA1775": A_IA1775})
add_arrows(pa, A_BLACK_ARROWS, 825, 766, "black", 1.2)
add_arrows(pa, A_BLUE_ARROWS, 685, 627, BLUE_ARROW, 1.5)
add_label(pa, -2.1, 810, "Right edge")
add_label(pa, 56.6, 810, "Midrib", align="center")
add_label(pa, 114.4, 810, "Left edge", align="right")

sm_top = strip(78, TOP_H, 25, 28)
letter(sm_top, PANEL_LETTERS[1], 34, "above")
letter(sm_top, PANEL_LETTERS[3], 34, "below")
legend(sm_top, [((38.5, 375, "center"), (0, 0)),
                ((41.5, 290, "center"), (0, 0)),
                ((19, 222, "left"), (36.3, 204)),
                ((15.7, 147, "left"), (33.3, 130)),
                ((15.7, 93, "left"), (33, 70))])

pb = make_panel(396, TOP_H, (-3.9, 114.5), 1, 0, 25, 28, TICKS_B, None, True)
add_series(pb, {"MSI": B_MSI, "NDWI": B_NDWI, "IA970": B_IA970, "IA1170": B_IA1170, "IA1775": B_IA1775})
add_arrows(pb, B_BLACK_ARROWS, 715, 657, "black", 1.2)
add_arrows(pb, B_BLUE_ARROWS, 685, 627, BLUE_ARROW, 1.5)
add_label(pb, -1.7, 815, "Right edge")
add_label(pb, 61.1, 815, "Midrib", align="center")
add_label(pb, 111.8, 815, "Left edge", align="right")

# ---------------- row 2 ----------------
sl_bot = strip(38, BOT_H, 4, 52)
stext(sl_bot, 14, 411, YLAB, "19px", align="center", angle=math.pi / 2)

pc = make_panel(398, BOT_H, (-9.19, 175.5), 1, 1, 4, 52, TICKS_C, XLAB, False)
add_series(pc, {"MSI": C_MSI, "NDWI": C_NDWI, "IA970": C_IA970, "IA1170": C_IA1170, "IA1775": C_IA1775})
add_arrows(pc, C_BLACK_ARROWS, 836, 780, "black", 1.2)
add_arrows(pc, C_APEX_ARROW, 781, 723, "black", 1.2)
add_arrows(pc, C_BLUE_ARROWS_HI, 751, 692, BLUE_ARROW, 1.5)
add_arrows(pc, C_BLUE_ARROWS_LO, 576, 517, BLUE_ARROW, 1.5)
add_label(pc, -6.5, 819, "Leaf base")
add_label(pc, 170.5, 819, "Leaf apex", align="right")

sm_bot = strip(78, BOT_H, 4, 52)
legend(sm_bot, [((39.5, 420, "center"), (0, 0)),
                ((40, 273, "center"), (0, 0)),
                ((19, 205, "left"), (36, 189)),
                ((15.7, 133, "left"), (33.3, 114)),
                ((15.7, 76, "left"), (33, 58))])

pd_ = make_panel(396, BOT_H, (-5.96, 124.8), 1, 0, 4, 52, TICKS_D, XLAB, True)
add_series(pd_, {"MSI": D_MSI, "NDWI": D_NDWI, "IA970": D_IA970, "IA1170": D_IA1170, "IA1775": D_IA1775})
add_arrows(pd_, D_BLACK_ARROWS, 753, 695, "black", 1.2)
add_arrows(pd_, D_TOP_ARROW, 862, 790, "black", 1.2)
add_arrows(pd_, D_BLUE_ARROWS, 578, 519, BLUE_ARROW, 1.5)
add_label(pd_, -3.9, 816, "Leaf base")
add_label(pd_, 121.9, 816, "Leaf apex", align="right")

layout = column(row(sl_top, pa, sm_top, pb), row(sl_bot, pc, sm_bot, pd_))
open("out.html", "w").write(file_html(layout, INLINE))
